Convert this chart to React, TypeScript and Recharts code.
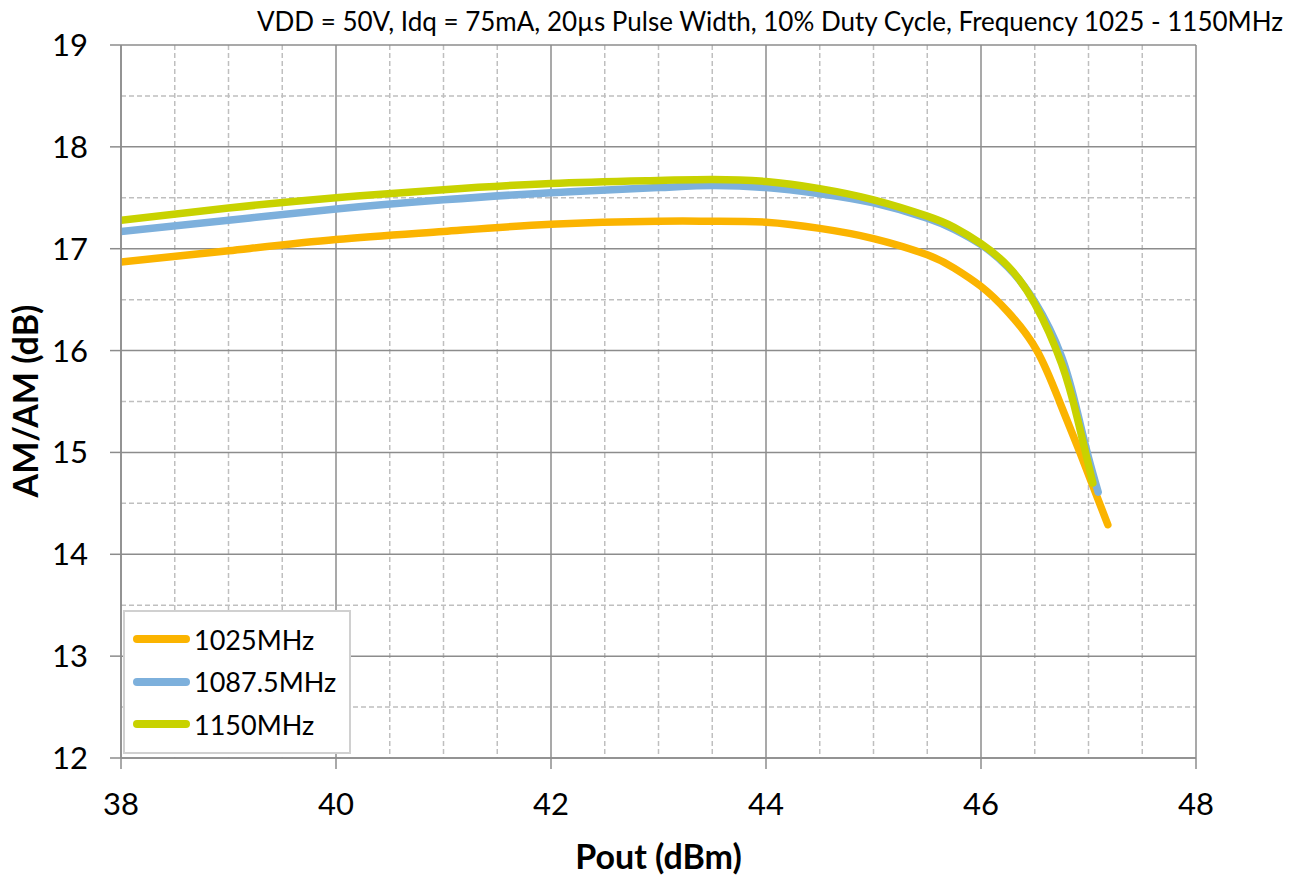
import { LineChart, Line, XAxis, YAxis, CartesianGrid, Legend } from "recharts";

// Pout (dBm) and AM/AM gain (dB)
const POUT_1025 = [38, 39, 40, 41, 42, 43, 43.5, 44, 44.5, 45, 45.5, 45.75, 46, 46.25, 46.52, 46.73, 46.92, 47.18];
const GAIN_1025 = [16.87, 16.98, 17.09, 17.17, 17.24, 17.27, 17.27, 17.26, 17.2, 17.1, 16.94, 16.81, 16.63, 16.38, 16.0, 15.5, 15.0, 14.29];

const POUT_1087 = [38, 39, 40, 41, 42, 43, 43.5, 44, 44.5, 45, 45.5, 45.75, 46, 46.25, 46.5, 46.75, 46.9, 47, 47.09];
const GAIN_1087 = [17.17, 17.28, 17.39, 17.48, 17.55, 17.6, 17.62, 17.6, 17.54, 17.45, 17.3, 17.19, 17.04, 16.82, 16.48, 15.94, 15.38, 14.95, 14.61];

const POUT_1150 = [38, 39, 40, 41, 42, 43, 43.5, 44, 44.5, 45, 45.5, 45.75, 46, 46.25, 46.5, 46.75, 46.9, 47.04];
const GAIN_1150 = [17.28, 17.4, 17.5, 17.58, 17.64, 17.67, 17.68, 17.66, 17.59, 17.48, 17.32, 17.21, 17.05, 16.83, 16.46, 15.87, 15.32, 14.7];

const X_TICKS = [38, 40, 42, 44, 46, 48];
const Y_TICKS = [12, 13, 14, 15, 16, 17, 18, 19];
const X_MINOR = [38.5, 39, 39.5, 40.5, 41, 41.5, 42.5, 43, 43.5, 44.5, 45, 45.5, 46.5, 47, 47.5];
const Y_MINOR = [12.5, 13.5, 14.5, 15.5, 16.5, 17.5, 18.5];

const SERIES = [
  { name: "1025MHz", color: "#FBB400", pout: POUT_1025, gain: GAIN_1025 },
  { name: "1087.5MHz", color: "#7DB0DC", pout: POUT_1087, gain: GAIN_1087 },
  { name: "1150MHz", color: "#C8D200", pout: POUT_1150, gain: GAIN_1150 },
];

const FONT = "Lato, 'Open Sans', sans-serif";
const MAJOR = "#8C8C8C";
const MINOR = "#BFBFBF";

const toPoints = (xs: number[], ys: number[]) => xs.map((x, i) => ({ x, y: ys[i] }));

function LegendBox({ payload }: any) {
  return (
    <div
      style={{
        border: "2px solid #d0d0d0",
        background: "#fff",
        padding: "6px 10px 6px 8px",
        fontFamily: FONT,
        fontSize: 27,
        color: "#000",
        width: 206,
        boxSizing: "content-box",
      }}
    >
      {(payload || []).map((p: any) => (
        <div key={p.value} style={{ display: "flex", alignItems: "center", height: 42.5 }}>
          <div style={{ width: 57, height: 8, borderRadius: 4, background: p.color, marginRight: 4 }} />
          <span>{p.value}</span>
        </div>
      ))}
    </div>
  );
}

export default function App() {
  return (
    <div style={{ position: "absolute", left: 0, top: 0, width: 1293, height: 875, background: "#fff" }}>
      <LineChart width={1293} height={875} margin={{ top: 45, right: 97, left: 21, bottom: 57 }}>
        <CartesianGrid
          stroke={MINOR}
          strokeWidth={1.5}
          strokeDasharray="5 3"
          horizontalValues={Y_MINOR}
          verticalValues={X_MINOR}
        />
        <CartesianGrid stroke={MAJOR} strokeWidth={1.5} horizontalValues={Y_TICKS} verticalValues={X_TICKS} />
        <XAxis
          type="number"
          dataKey="x"
          domain={[38, 48]}
          ticks={X_TICKS}
          height={60}
          tickSize={11}
          tickMargin={24}
          axisLine={{ stroke: MAJOR, strokeWidth: 1.5 }}
          tickLine={{ stroke: MAJOR, strokeWidth: 1.5 }}
          tick={{ fill: "#000", fontSize: 31, fontFamily: FONT }}
          allowDataOverflow
        />
        <YAxis
          type="number"
          domain={[12, 19]}
          ticks={Y_TICKS}
          width={100}
          tickSize={11}
          tickMargin={22}
          axisLine={{ stroke: MAJOR, strokeWidth: 1.5 }}
          tickLine={{ stroke: MAJOR, strokeWidth: 1.5 }}
          tick={{ fill: "#000", fontSize: 31, fontFamily: FONT }}
          allowDataOverflow
        />
        <Legend
          layout="vertical"
          align="center"
          verticalAlign="middle"
          wrapperStyle={{ left: 123, top: 610, width: "auto" }}
          content={<LegendBox />}
        />
        {SERIES.map((s) => (
          <Line
            key={s.name}
            name={s.name}
            data={toPoints(s.pout, s.gain)}
            dataKey="y"
            type="natural"
            stroke={s.color}
            strokeWidth={7.5}
            strokeLinecap="round"
            dot={false}
            activeDot={false}
            isAnimationActive={false}
          />
        ))}
      </LineChart>
      <div
        style={{
          position: "absolute",
          right: 10,
          top: 5,
          fontFamily: FONT,
          fontSize: 26,
          color: "#000",
          whiteSpace: "nowrap",
        }}
      >
        VDD = 50V, Idq = 75mA, 20µs Pulse Width, 10% Duty Cycle, Frequency 1025 - 1150MHz
      </div>
      <div
        style={{
          position: "absolute",
          left: 0,
          width: 1317,
          top: 835,
          textAlign: "center",
          fontFamily: FONT,
          fontWeight: 700,
          fontSize: 34,
          color: "#000",
        }}
      >
        Pout (dBm)
      </div>
      <div
        style={{
          position: "absolute",
          left: 24,
          top: 401,
          transform: "translate(-50%, -50%) rotate(-90deg)",
          fontFamily: FONT,
          fontWeight: 700,
          fontSize: 34,
          color: "#000",
          whiteSpace: "nowrap",
        }}
      >
        AM/AM (dB)
      </div>
    </div>
  );
}
